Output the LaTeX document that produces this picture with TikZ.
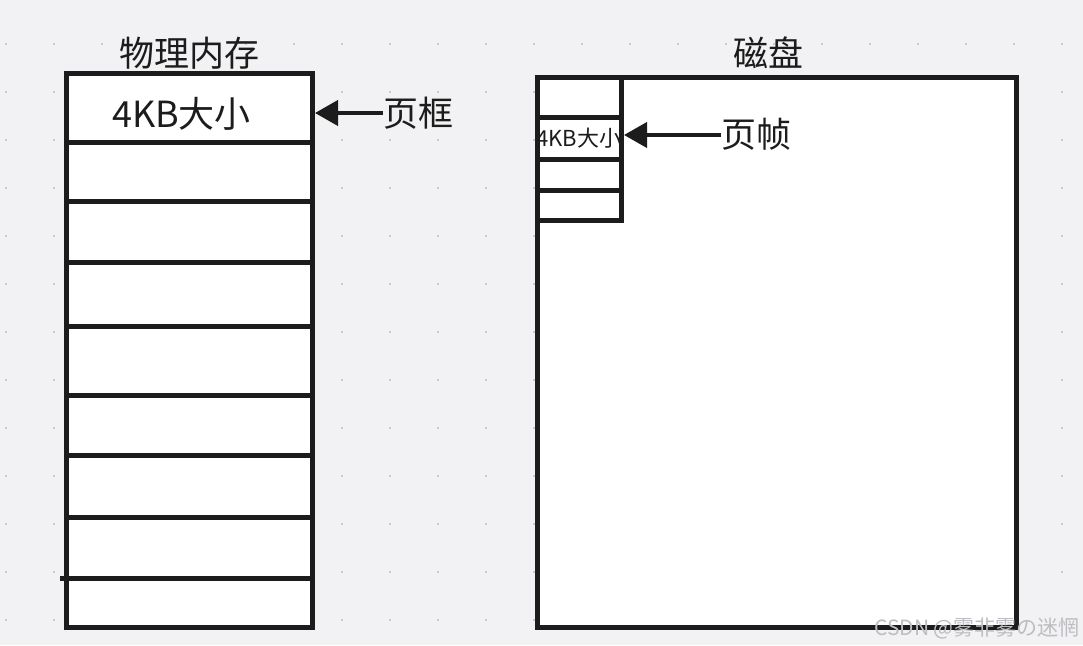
\documentclass[tikz,border=0pt]{standalone}
\usepackage{fontspec}
\setmainfont{Noto Sans CJK SC}
\usetikzlibrary{arrows.meta}
\definecolor{bg}{HTML}{F2F2F4}
\definecolor{ink}{HTML}{1C1C1C}
\definecolor{dotc}{HTML}{C9C9CB}
\definecolor{wm}{HTML}{BDBDC2}
\tikzset{
  frame/.style={draw=ink,line width=5pt,fill=white},
  sep/.style={draw=ink,line width=5pt},
  lbl/.style={text=ink,inner sep=0pt,font=\fontsize{35}{35}\selectfont},
  slbl/.style={text=ink,inner sep=0pt,font=\fontsize{22}{22}\selectfont},
  ar/.style={-{Triangle[length=23pt,width=25pt]},line width=4pt,draw=ink},
}

\begin{document}
\begin{tikzpicture}[x=1pt,y=-1pt]
  % canvas and dot grid
  \fill[bg] (0,0) rectangle (1083,645);
  \useasboundingbox (0,0) rectangle (1083,645);
  \foreach \i in {0,...,22}
    \foreach \j in {0,...,12}
      \fill[dotc] (4.75+48*\i,42.75+48*\j) rectangle ++(2.5,2.5);

  % physical memory
  \draw[frame] (66.5,73.5) rectangle (312.5,627.5);
  \foreach \r in {142,201.5,262,326,395,455,517.5}
    \draw[sep] (66.5,\r) -- (312.5,\r);
  \draw[sep] (60,578) -- (312.5,578);
  \node[lbl] (mem) at (189,53) {物理内存};
  \node[lbl,font=\fontsize{36}{36}\selectfont] (m1) at (181.5,114) {4KB大小};
  \coordinate (m1e) at (315,113);
  \node[lbl,anchor=west] (kuang) at (383,113) {页框};
  \draw[ar] (kuang.west) -- (m1e);

  % disk
  \draw[frame] (537,77.5) rectangle (1016,627);
  \draw[sep] (537,77.5) rectangle (621.5,220.5);
  \foreach \r in {117,159,190}
    \draw[sep] (537,\r) -- (621.5,\r);
  \node[lbl] (disk) at (768,53) {磁盘};
  \node[slbl] (f2) at (579,138) {4KB大小};
  \coordinate (f2e) at (624,135);
  \node[lbl,anchor=west] (zhen) at (721,134) {页帧};
  \draw[ar] (zhen.west |- f2e) -- (f2e);

  % watermark
  \node[text=wm,inner sep=0pt,anchor=east,font=\fontsize{21}{21}\selectfont] (wmark) at (1080,628) {CSDN @雾非雾の迷惘};
\end{tikzpicture}
\end{document}
